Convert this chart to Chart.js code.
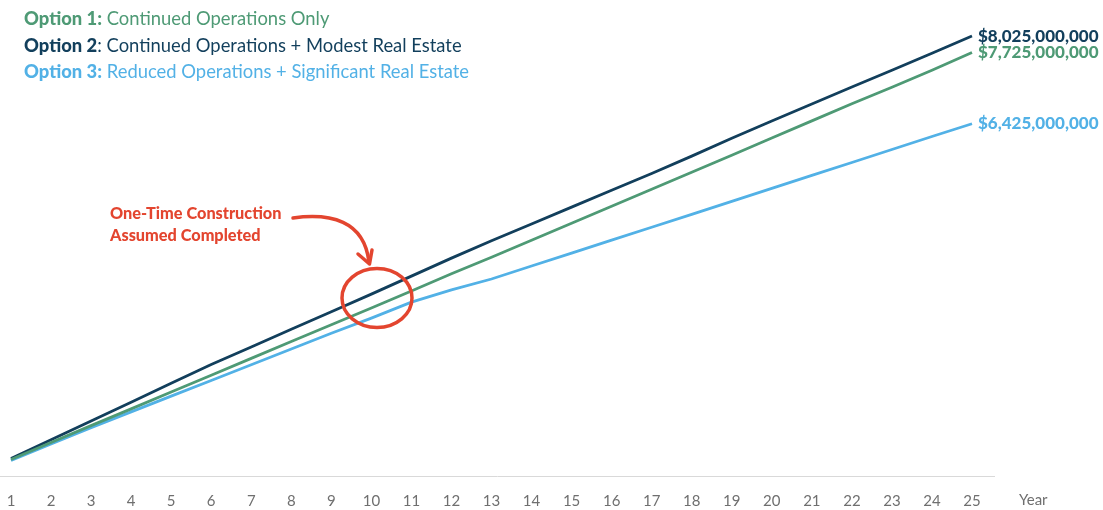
<!DOCTYPE html>
<html>
<head>
<meta charset="utf-8">
<script src="https://cdn.jsdelivr.net/npm/chart.js@4.4.1/dist/chart.umd.min.js"></script>
<style>
  html, body { margin: 0; padding: 0; background: #ffffff; }
  #wrap { position: relative; width: 1103px; height: 510px; overflow: hidden; }
  #c { position: absolute; left: 0; top: 0; }
  .leg { position: absolute; left: 24px; font-family: Lato, "Open Sans", sans-serif; font-size: 18.4px; white-space: nowrap; line-height: 20px; }
  .leg b { font-weight: 900; }
  .note { position: absolute; left: 110px; font-family: Lato, "Open Sans", sans-serif; font-weight: 900; font-size: 16.3px; color: #e3452f; line-height: 22px; white-space: nowrap; }
</style>
</head>
<body>
<div id="wrap">
  <canvas id="c" width="1103" height="510"></canvas>
  <div class="leg" style="top:8px;color:#4e9a75;"><b>Option 1:</b> Continued Operations Only</div>
  <div class="leg" style="top:34.5px;color:#123f5c;"><b>Option 2</b>: Continued Operations + Modest Real Estate</div>
  <div class="leg" style="top:61px;color:#52b1e6;"><b>Option 3:</b> Reduced Operations + Significant Real Estate</div>
  <div class="note" style="top:202px;">One-Time Construction<br>Assumed Completed</div>
</div>
<script>
// Data (values in millions of dollars)
const years = ['1','2','3','4','5','6','7','8','9','10','11','12','13','14','15','16','17','18','19','20','21','22','23','24','25'];
const option1 = [301, 611, 919, 1225, 1531, 1839, 2146, 2452, 2758, 3064, 3376, 3688, 3990, 4300, 4610, 4920, 5230, 5542, 5852, 6165, 6477, 6791, 7090, 7400, 7725];
const option2 = [319, 662, 1004, 1347, 1690, 2033, 2352, 2676, 2997, 3318, 3646, 3974, 4291, 4598, 4904, 5212, 5518, 5834, 6162, 6475, 6787, 7095, 7400, 7712, 8025];
const option3 = [283, 583, 882, 1169, 1457, 1743, 2029, 2317, 2603, 2880, 3172, 3394, 3593, 3830, 4065, 4302, 4537, 4773, 5010, 5247, 5482, 5719, 5956, 6193, 6425];
const endLabels = ['$7,725,000,000', '$8,025,000,000', '$6,425,000,000'];
const axisTitle = 'Year';

const colors = ['#4e9a75', '#123f5c', '#52b1e6'];
const FONT = 'Lato, "Open Sans", sans-serif';

const decor = {
  id: 'decor',
  beforeDatasetsDraw(chart) {
    const ctx = chart.ctx;
    const y0 = chart.scales.y.getPixelForValue(0);
    ctx.save();
    ctx.strokeStyle = '#d9d9d9';
    ctx.lineWidth = 1;
    ctx.beginPath();
    ctx.moveTo(0, Math.round(y0) + 0.5);
    ctx.lineTo(995, Math.round(y0) + 0.5);
    ctx.stroke();
    ctx.restore();
  },
  afterDatasetsDraw(chart) {
    const ctx = chart.ctx;
    ctx.save();
    // end labels
    ctx.font = '900 17px ' + FONT;
    ctx.textBaseline = 'middle';
    ctx.textAlign = 'left';
    chart.data.datasets.forEach((ds, i) => {
      const meta = chart.getDatasetMeta(i);
      const pt = meta.data[meta.data.length - 1];
      ctx.fillStyle = colors[i];
      ctx.fillText(endLabels[i], pt.x + 6, pt.y);
    });
    // axis title
    ctx.font = '15px ' + FONT;
    ctx.fillStyle = '#6f6f6f';
    ctx.textAlign = 'left';
    ctx.fillText(axisTitle, 1019, 500);
    // circle annotation
    ctx.strokeStyle = '#e3452f';
    ctx.lineWidth = 3.5;
    ctx.beginPath();
    ctx.ellipse(377, 298, 35, 29.5, 0, 0, Math.PI * 2);
    ctx.stroke();
    // arrow
    ctx.lineCap = 'round';
    ctx.lineJoin = 'round';
    ctx.beginPath();
    ctx.moveTo(293, 218);
    ctx.bezierCurveTo(330, 213, 364, 220, 369, 262);
    ctx.stroke();
    ctx.beginPath();
    ctx.moveTo(358, 254);
    ctx.lineTo(369.5, 264);
    ctx.lineTo(372, 250);
    ctx.stroke();
    ctx.restore();
  }
};

new Chart(document.getElementById('c'), {
  type: 'line',
  data: {
    labels: years,
    datasets: [
      { label: 'Option 1', data: option1, borderColor: colors[0], borderWidth: 2.8 },
      { label: 'Option 2', data: option2, borderColor: colors[1], borderWidth: 2.8 },
      { label: 'Option 3', data: option3, borderColor: colors[2], borderWidth: 2.8 }
    ]
  },
  options: {
    responsive: false,
    animation: false,
    devicePixelRatio: 1,
    layout: { padding: { left: 11, right: 131, top: 10, bottom: 0 } },
    elements: { point: { radius: 0 }, line: { tension: 0 } },
    plugins: { legend: { display: false }, tooltip: { enabled: false } },
    scales: {
      x: {
        type: 'category',
        grid: { display: false, drawTicks: false },
        border: { display: false },
        ticks: { color: '#6f6f6f', font: { family: FONT, size: 15 }, padding: 16, maxRotation: 0, autoSkip: false },
        afterFit(scale) { scale.height = 34; scale.paddingLeft = 0; scale.paddingRight = 0; }
      },
      y: {
        display: false,
        min: 0,
        max: 8500
      }
    }
  },
  plugins: [decor]
});
</script>
</body>
</html>
